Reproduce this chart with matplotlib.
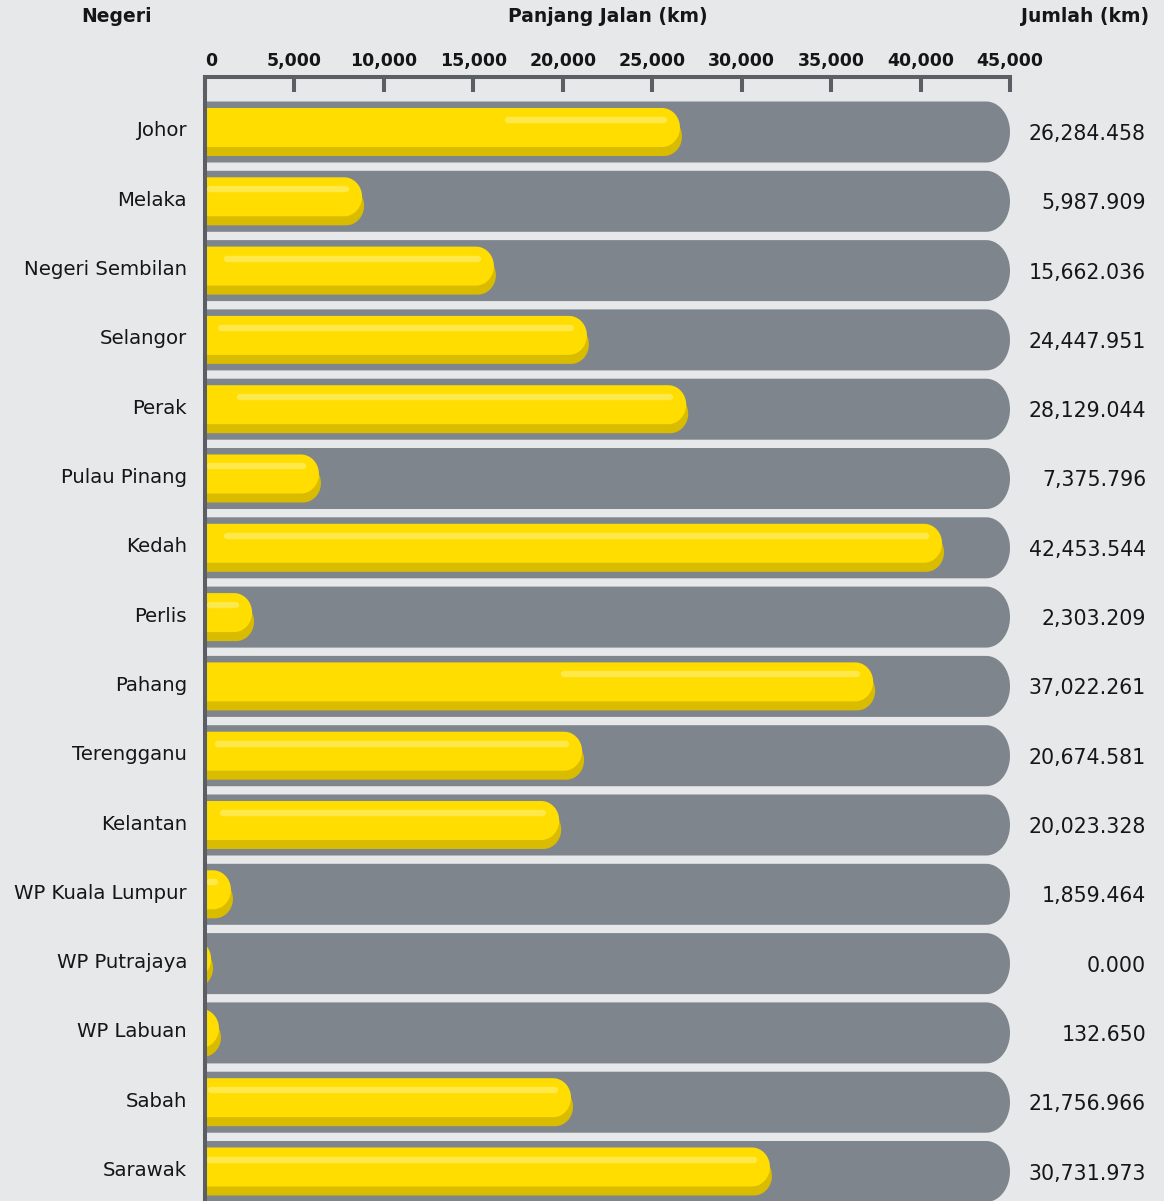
import numpy as np
import matplotlib.pyplot as plt
from matplotlib.patches import Polygon

negeri = ['Johor', 'Melaka', 'Negeri Sembilan', 'Selangor', 'Perak', 'Pulau Pinang',
          'Kedah', 'Perlis', 'Pahang', 'Terengganu', 'Kelantan', 'WP Kuala Lumpur',
          'WP Putrajaya', 'WP Labuan', 'Sabah', 'Sarawak']
# totals printed on the right
jumlah_km = [26284.458, 5987.909, 15662.036, 24447.951, 28129.044, 7375.796,
             42453.544, 2303.209, 37022.261, 20674.581, 20023.328, 1859.464,
             0.000, 132.650, 21756.966, 30731.973]
# bar lengths as drawn against the top axis (the artwork is not exact)
bar_km = [26550, 8780, 16150, 21350, 26900, 6370, 41200, 2630,
          37350, 21080, 19800, 1450, 340, 780, 20460, 31580]
x_ticks = [0, 5000, 10000, 15000, 20000, 25000, 30000, 35000, 40000, 45000]

# decoration: where the light glint on each yellow bar starts (km from axis)
glint_start = [16770, 110, 1060, 730, 1790, 110, 1060, 110,
               19900, 560, 840, 110, None, None, 170, 110]

BG = '#e6e8e9'
GREY = '#7f858c'
YELLOW = '#ffdd00'
YELLOW_DARK = '#d9bb00'
GLINT = '#ffe84a'
AXIS = '#5b5f64'
TXT = '#161616'

W, H = 1164, 1201
X0_PX, X1_PX = 205, 1010      # axis 0 and 45,000
TOP_PX = 77                   # top axis line
ROW0_PX, ROW_PX = 132, 69.3   # first row centre, row pitch
KM = 45000 / (X1_PX - X0_PX)  # km per pixel
RU = 1 / ROW_PX               # row units per pixel

fig = plt.figure(figsize=(W / 100, H / 100), dpi=100, facecolor=BG)
ax = fig.add_axes([X0_PX / W, 0, (X1_PX - X0_PX) / W, (H - TOP_PX) / H])
ax.set_facecolor(BG)
y_top = -(ROW0_PX - TOP_PX) * RU
ax.set_xlim(0, 45000)
ax.set_ylim(y_top + (H - TOP_PX) * RU, y_top)


def pill(x0, x1, yc, half_h, rx, color, z):
    # flat on the left, half-ellipse on the right
    t = np.linspace(-np.pi / 2, np.pi / 2, 40)
    cx = x1 - rx
    arc = np.column_stack([cx + rx * np.cos(t), yc + half_h * np.sin(t)])
    pts = np.vstack([[x0, yc - half_h], arc, [x0, yc + half_h]])
    ax.add_patch(Polygon(pts, closed=True, facecolor=color, edgecolor='none', zorder=z))


for i, (name, val, tot, gs) in enumerate(zip(negeri, bar_km, jumlah_km, glint_start)):
    # grey track
    pill(-3000, 45000, i, 30.5 * RU, 24 * KM, GREY, 1)
    # shadow + yellow body
    pill(-3000, val + 2 * KM, i + 4.5 * RU, 19.5 * RU, 18 * KM, YELLOW_DARK, 2)
    pill(-3000, val, i - 4.5 * RU, 19.5 * RU, 18 * KM, YELLOW, 3)
    # glint
    if gs is not None:
        g0, g1 = gs + 3 * KM, val - 16 * KM
        if g1 > g0:
            ax.plot([g0, g1], [i - 12 * RU] * 2, color=GLINT, lw=4.6,
                    solid_capstyle='round', zorder=4)
    ax.text(-18 * KM, i - 1 * RU, name, ha='right', va='center', fontsize=14.2,
            color=TXT, family='DejaVu Sans')
    ax.text((1146 - X0_PX) * KM, i + 2 * RU, f'{tot:,.3f}', ha='right', va='center',
            fontsize=14.8, color=TXT, family='DejaVu Sans')

for s in ['bottom', 'right']:
    ax.spines[s].set_visible(False)
for s in ['top', 'left']:
    ax.spines[s].set_color(AXIS)
    ax.spines[s].set_linewidth(2.9)
    ax.spines[s].set_zorder(6)
ax.spines['left'].set_capstyle('projecting')

ax.xaxis.tick_top()
ax.set_xticks(x_ticks)
ax.set_xticklabels([f'{t:,}' for t in x_ticks])
ax.tick_params(axis='x', direction='in', length=11, width=2.9, color=AXIS, pad=5,
               labelsize=12.5, labelcolor=TXT)
for lab in ax.get_xticklabels():
    lab.set_fontweight('bold')
ax.get_xticklabels()[0].set_ha('left')
ax.set_yticks([])

fig.text(117 / W, 1 - 17 / H, 'Negeri', ha='center', va='center', fontsize=13.5,
         fontweight='bold', color=TXT)
fig.text(608 / W, 1 - 17 / H, 'Panjang Jalan (km)', ha='center', va='center',
         fontsize=13.5, fontweight='bold', color=TXT)
fig.text(1149 / W, 1 - 17 / H, 'Jumlah (km)', ha='right', va='center', fontsize=13.5,
         fontweight='bold', color=TXT)

fig.savefig('out.png', dpi=100, facecolor=BG)
